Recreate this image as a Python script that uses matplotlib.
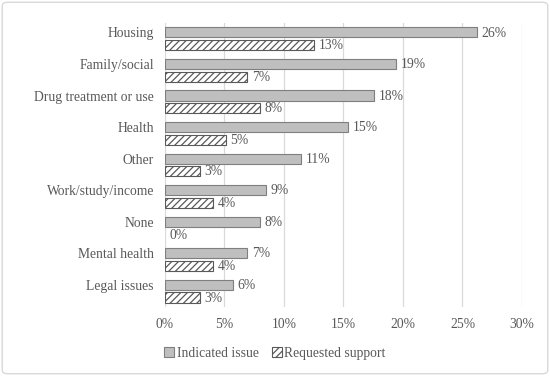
import numpy as np
import matplotlib
matplotlib.use("Agg")
import matplotlib.pyplot as plt
from matplotlib.patches import FancyBboxPatch

categories = ["Housing", "Family/social", "Drug treatment or use", "Health",
              "Other", "Work/study/income", "None", "Mental health", "Legal issues"]
indicated = [26.2, 19.4, 17.6, 15.4, 11.4, 8.5, 8.0, 6.9, 5.7]
requested = [12.5, 6.9, 8.0, 5.1, 2.9, 4.0, 0.0, 4.0, 2.9]
ind_labels = ["26%", "19%", "18%", "15%", "11%", "9%", "8%", "7%", "6%"]
req_labels = ["13%", "7%", "8%", "5%", "3%", "4%", "0%", "4%", "3%"]
xticks = [0, 5, 10, 15, 20, 25, 30]

plt.rcParams["font.family"] = ["Liberation Serif", "DejaVu Serif"]
plt.rcParams["hatch.color"] = "#595959"
plt.rcParams["hatch.linewidth"] = 0.9
txt = "#595959"
fs = 9.8

fig = plt.figure(figsize=(5.5, 3.76), dpi=100)
ax = fig.add_axes([0.3, 0.1835, 0.649, 0.7555])

y = np.arange(len(categories))
h = 0.32
b1 = ax.barh(y - 0.2, indicated, height=h, color="#bfbfbf", edgecolor="#7f7f7f",
             linewidth=0.8, label="Indicated issue", zorder=3)
b2 = ax.barh(y + 0.2, requested, height=h, color="white", edgecolor="#595959",
             linewidth=0.8, hatch="/////", label="Requested support", zorder=3)
# zero-width bar should not leave a stroke
for p, v in zip(b2.patches, requested):
    if v == 0:
        p.set_linewidth(0)

for yy, v, s in zip(y, indicated, ind_labels):
    ax.text(v + 0.4, yy - 0.18, s, va="center", ha="left", fontsize=fs, color=txt)
for yy, v, s in zip(y, requested, req_labels):
    ax.text(v + 0.4, yy + 0.22, s, va="center", ha="left", fontsize=fs, color=txt)

ax.set_xlim(0, 30)
ax.set_ylim(8.5, -0.5)
ax.set_xticks(xticks)
ax.set_xticklabels([f"{t}%" for t in xticks])
ax.set_yticks(y - 0.2)
ax.set_yticklabels(categories)
ax.tick_params(axis="both", length=0, labelsize=fs, colors=txt)
ax.tick_params(axis="x", pad=8)
ax.tick_params(axis="y", pad=8)
ax.xaxis.grid(True, color="#d9d9d9", linewidth=0.9, zorder=0)
ax.set_axisbelow(True)
for sp in ax.spines.values():
    sp.set_visible(False)

leg = fig.legend(handles=[b1, b2], loc="center", bbox_to_anchor=(0.5, 0.06), ncol=2,
                 frameon=False, fontsize=fs, handlelength=0.7, handleheight=0.7,
                 handletextpad=0.2, columnspacing=1.0)
for t in leg.get_texts():
    t.set_color(txt)

border = FancyBboxPatch((0.004, 0.006), 0.992, 0.988, boxstyle="round,pad=0,rounding_size=0.01",
                        transform=fig.transFigure, fill=False, edgecolor="#d9d9d9", linewidth=1)
fig.patches.append(border)

fig.savefig("out.png", dpi=100)
